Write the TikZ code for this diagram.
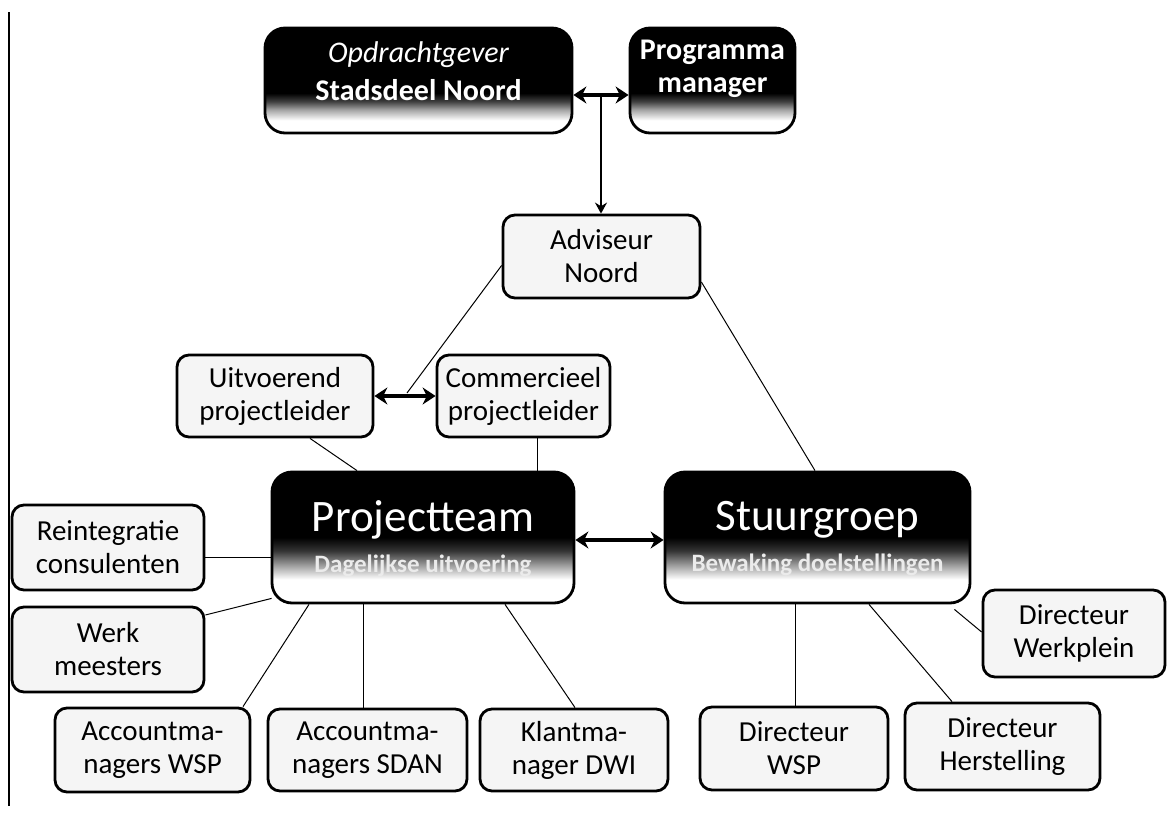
\documentclass[tikz,border=0pt]{standalone}
\usepackage{fontspec}
\setmainfont{Carlito}
\usetikzlibrary{arrows.meta,calc}
\pgfdeclareverticalshading{darkA}{100bp}{color(0bp)=(white); color(31bp)=(white); color(36bp)=(black!35); color(40bp)=(black!75); color(44bp)=(black); color(100bp)=(black)}
\pgfdeclareverticalshading{darkB}{100bp}{color(0bp)=(white); color(34bp)=(white); color(39bp)=(black!35); color(45bp)=(black!80); color(50bp)=(black); color(100bp)=(black)}
\tikzset{
  lbox/.style={draw, line width=2.8pt, rounded corners=12pt, fill=gray!8, align=center,
    font=\fontsize{29}{33}\selectfont, inner sep=0pt},
  dbox/.style={draw, line width=2.8pt, rounded corners=20pt, inner sep=0pt},
  dtxt/.style={text=white, inner sep=0pt, align=center},
  subtxt/.style={text=white!92!black, inner sep=0pt, font=\fontsize{25}{28}\selectfont\bfseries},
  conn/.style={line width=1pt},
  darr/.style={line width=3.5pt, {Stealth[length=13pt,width=17pt]}-{Stealth[length=13pt,width=17pt]}},
  varr/.style={line width=1.8pt, -{Stealth[length=11pt,width=12pt]}}
}
\begin{document}
\begin{tikzpicture}[x=1pt,y=-1pt]
\useasboundingbox (0,0) rectangle (1168,819);
\fill[white] (0,0) rectangle (1168,819);
% left border line
\draw[line width=1.5pt] (9,12) -- (9,806);

% dark boxes
\node[dbox, shading=darkA, minimum width=307pt, minimum height=105pt] (opd) at (418.5,80.5) {};
\node[dtxt, font=\fontsize{30}{32}\selectfont\itshape] (opdt1) at (418.5,55) {Opdrachtgever};
\node[dtxt, font=\fontsize{30}{32}\selectfont\bfseries] (opdt2) at (418.5,90) {Stadsdeel Noord};

\node[dbox, shading=darkA, minimum width=165pt, minimum height=105pt] (prog) at (712.5,80.5) {};
\node[dtxt, font=\fontsize{30}{32}\selectfont\bfseries] (progt1) at (712.5,52) {Programma};
\node[dtxt, font=\fontsize{30}{32}\selectfont\bfseries] (progt2) at (712.5,88) {manager};

\node[dbox, shading=darkB, minimum width=302pt, minimum height=131pt] (pt) at (423,537.5) {};
\node[dtxt, font=\fontsize{45}{47}\selectfont] (ptt) at (423,520) {Projectteam};
\node[subtxt] (pts) at (423,566) {Dagelijkse uitvoering};

\node[dbox, shading=darkB, minimum width=305pt, minimum height=131pt] (sg) at (817.5,537.5) {};
\node[dtxt, font=\fontsize{45}{47}\selectfont] (sgt) at (817.5,520) {Stuurgroep};
\node[subtxt] (sgs) at (817.5,565) {Bewaking doelstellingen};

% light boxes
\node[lbox, minimum width=197pt, minimum height=83pt] (adv) at (601.5,256.5) {Adviseur\\Noord};
\node[lbox, minimum width=196pt, minimum height=82pt] (uit) at (275,396) {Uitvoerend\\projectleider};
\node[lbox, minimum width=173pt, minimum height=82pt] (com) at (523.5,396) {Commercieel\\projectleider};
\node[lbox, minimum width=192pt, minimum height=85pt] (rei) at (108,547.5) {Reintegratie\\consulenten};
\node[lbox, minimum width=192pt, minimum height=85pt] (werk) at (108,649.5) {Werk\\meesters};
\node[lbox, minimum width=195pt, minimum height=84pt] (acc1) at (152.5,750) {Accountma-\\nagers WSP};
\node[lbox, minimum width=199pt, minimum height=82pt] (acc2) at (367.5,750) {Accountma-\\nagers SDAN};
\node[lbox, minimum width=188pt, minimum height=82pt] (kl) at (574,750) {Klantma-\\nager DWI};
\node[lbox, minimum width=188pt, minimum height=83pt] (dws) at (794,748.5) {Directeur\\WSP};
\node[lbox, minimum width=195pt, minimum height=87pt] (dh) at (1002.5,746.5) {Directeur\\Herstelling};
\node[lbox, minimum width=182pt, minimum height=87pt] (dwp) at (1074,633.5) {Directeur\\Werkplein};

% arrows
\draw[darr] ([yshift=-14.5pt]opd.east) -- ([yshift=-14.5pt]prog.west);
\coordinate (tm) at ($([yshift=-14.5pt]opd.east)!0.5!([yshift=-14.5pt]prog.west)$);
\draw[varr] (tm) -- (tm |- adv.north);
\draw[darr] (uit.east) -- (com.west);
\coordinate (um) at ($(uit.east)!0.5!(com.west)$);
\draw[darr] ([yshift=-2.5pt]pt.east) -- ([yshift=-2.5pt]sg.west);

% connectors
\draw[conn] ([yshift=-9pt]adv.west) -- ([xshift=2pt,yshift=3pt]um);
\draw[conn] ([yshift=-25.5pt]adv.east) -- ([xshift=-2.5pt]sg.north);
\draw[conn] ([xshift=35pt]uit.south) -- ([xshift=-66pt]pt.north);
\draw[conn] ([xshift=13.5pt]com.south) -- ([xshift=13.5pt]com.south |- pt.north);
\draw[conn] ([yshift=-10pt]rei.east) -- ([yshift=-10pt]rei.east -| pt.west);
\draw[conn] ([yshift=34.5pt]werk.east) -- ([xshift=1pt,yshift=6pt]pt.south west);
\draw[conn] ([xshift=90.5pt]acc1.north) -- ([xshift=-114pt]pt.south);
\draw[conn] ([xshift=-4.5pt]acc2.north) -- ([xshift=-4.5pt]acc2.north |- pt.south);
\draw[conn] ([xshift=1pt]kl.north) -- ([xshift=82pt]pt.south);
\draw[conn] ([xshift=1pt]dws.north) -- ([xshift=1pt]dws.north |- sg.south);
\draw[conn] ([xshift=-50.5pt]dh.north) -- ([xshift=51.5pt]sg.south);
\draw[conn] ([yshift=1.5pt]dwp.west) -- ([xshift=-17pt,yshift=-5pt]sg.south east);
\end{tikzpicture}
\end{document}
